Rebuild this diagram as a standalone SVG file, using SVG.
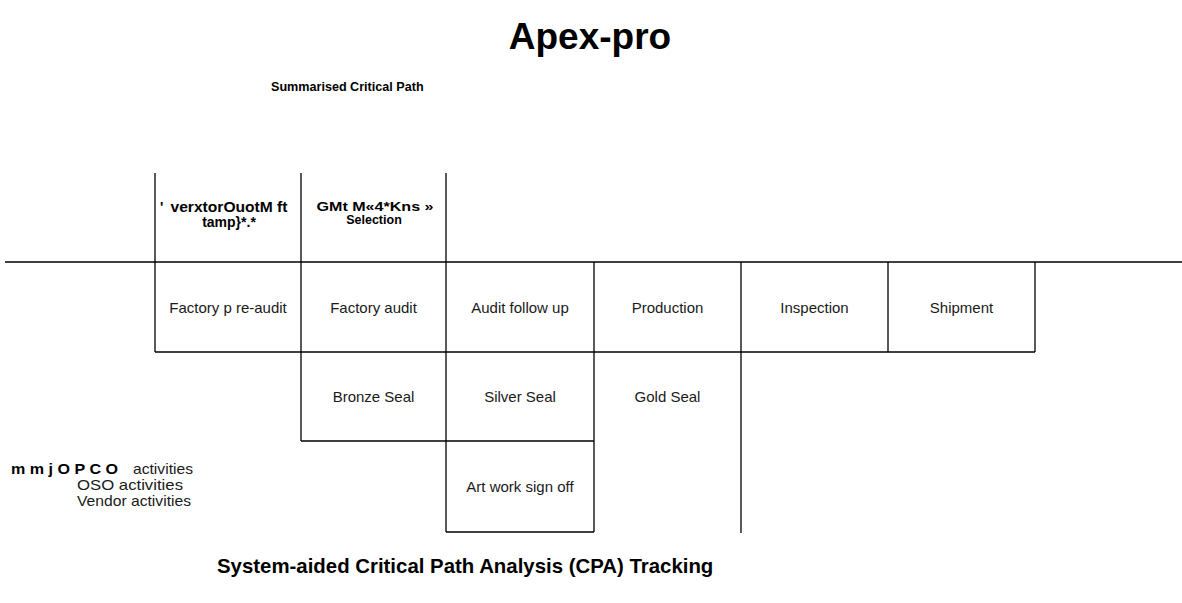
<svg xmlns="http://www.w3.org/2000/svg" width="1182" height="603" viewBox="0 0 1182 603">
<style>
.ln{stroke:#000;stroke-width:1.3;fill:none}
.t{font-family:"Liberation Sans",Arial,sans-serif;font-size:15px;fill:#1a1a1a;text-anchor:middle}
.b{font-family:"Liberation Sans",Arial,sans-serif;font-weight:bold;fill:#000}
</style>
<rect width="1182" height="603" fill="#fff"/>
<text class="b" x="590" y="49" font-size="37" text-anchor="middle">Apex-pro</text>
<text class="b" x="271" y="91" font-size="12.6">Summarised Critical Path</text>
<g id="connectors">
<line class="ln" x1="5" y1="262" x2="1182" y2="262"/>
<line class="ln" x1="155" y1="352" x2="1035" y2="352"/>
<line class="ln" x1="301" y1="441" x2="594" y2="441"/>
<line class="ln" x1="446" y1="532" x2="594" y2="532"/>
<line class="ln" x1="155" y1="173" x2="155" y2="352"/>
<line class="ln" x1="301" y1="173" x2="301" y2="441"/>
<line class="ln" x1="446" y1="173" x2="446" y2="532"/>
<line class="ln" x1="594" y1="262" x2="594" y2="532"/>
<line class="ln" x1="741" y1="262" x2="741" y2="533"/>
<line class="ln" x1="888" y1="262" x2="888" y2="352"/>
<line class="ln" x1="1035" y1="262" x2="1035" y2="352"/>
</g>
<g id="hdr1">
<text class="b" x="160" y="212" font-size="14">'</text>
<text class="b" x="229" y="212" font-size="14" text-anchor="middle" textLength="117" lengthAdjust="spacingAndGlyphs">verxtorOuotM ft</text>
<text class="b" x="229" y="226.5" font-size="14" text-anchor="middle">tamp}*.*</text>
</g>
<g id="hdr2">
<text class="b" x="375" y="210.5" font-size="12.5" text-anchor="middle" textLength="117" lengthAdjust="spacingAndGlyphs">GMt M«4*Kns  »</text>
<text class="b" x="374" y="223.5" font-size="12.5" text-anchor="middle">Selection</text>
</g>
<g id="n1"><text class="t" x="228" y="312.5">Factory p re-audit</text></g>
<g id="n2"><text class="t" x="373.5" y="312.5">Factory audit</text></g>
<g id="n3"><text class="t" x="520" y="312.5">Audit follow up</text></g>
<g id="n4"><text class="t" x="667.5" y="312.5">Production</text></g>
<g id="n5"><text class="t" x="814.5" y="312.5">Inspection</text></g>
<g id="n6"><text class="t" x="961.5" y="312.5">Shipment</text></g>
<g id="n7"><text class="t" x="373.5" y="402">Bronze Seal</text></g>
<g id="n8"><text class="t" x="520" y="402">Silver Seal</text></g>
<g id="n9"><text class="t" x="667.5" y="402">Gold Seal</text></g>
<g id="n10"><text class="t" x="520" y="492">Art work sign off</text></g>
<g id="legend">
<text class="b" x="11" y="474" font-size="14" textLength="107" lengthAdjust="spacingAndGlyphs">m m j O P C O</text>
<text class="t" x="133" y="474" style="text-anchor:start" font-size="14" textLength="60" lengthAdjust="spacingAndGlyphs">activities</text>
<text class="t" x="77" y="490" style="text-anchor:start" font-size="14" textLength="106" lengthAdjust="spacingAndGlyphs">OSO activities</text>
<text class="t" x="77" y="506" style="text-anchor:start" font-size="14" textLength="114" lengthAdjust="spacingAndGlyphs">Vendor activities</text>
</g>
<text class="b" x="217" y="573" font-size="20.4">System-aided Critical Path Analysis (CPA) Tracking</text>
</svg>
